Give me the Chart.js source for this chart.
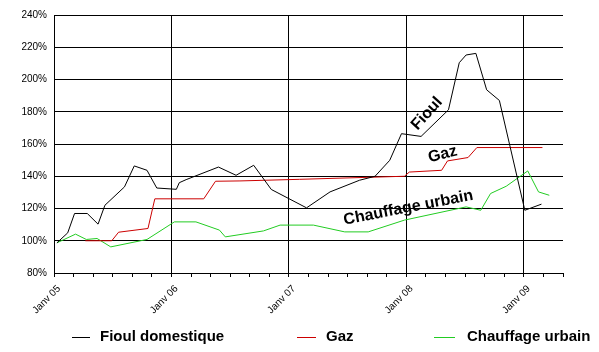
<!DOCTYPE html>
<html>
<head>
<meta charset="utf-8">
<script src="https://cdn.jsdelivr.net/npm/chart.js@4/dist/chart.umd.min.js"></script>
<style>
  html, body { margin: 0; padding: 0; background: #fff; }
  canvas { display: block; }
</style>
</head>
<body>
<canvas id="c" width="599" height="352"></canvas>
<script>
// ---- Data (x = months since January 2005, y = index, base 100) ----
const tickLabels = ['Janv 05', 'Janv 06', 'Janv 07', 'Janv 08', 'Janv 09'];
const seriesNames = ['Fioul domestique', 'Gaz', 'Chauffage urbain'];

const fioulMonths = [0.3, 1.4, 2.1, 3.4, 4.5, 5.2, 7.2, 8.2, 9.5, 10.5, 12.5, 12.8, 13.5, 16.8, 18.6, 20.4, 22.2, 25.8, 28.2, 31.2, 32.8, 34.3, 35.5, 37.5, 40.3, 41.4, 42.1, 43.1, 44.2, 45.5, 48.1, 49.8];
const fioulValues = [98.7, 104.9, 116.9, 116.9, 110.3, 122, 133.4, 146.4, 143.7, 132.7, 131.9, 136, 137.9, 145.7, 140.6, 146.8, 131.8, 120.4, 130.3, 137.5, 140, 149.9, 166.4, 164.7, 181.2, 210.4, 215.2, 216.2, 193.6, 187, 118.9, 122.7];

const gazMonths = [3.2, 5.9, 6.6, 9.6, 10.3, 15.3, 16.5, 19, 25.1, 35.8, 36.3, 39.6, 40.2, 42.3, 43.2, 49.9];
const gazValues = [100, 100, 105.3, 107.6, 126, 126, 136.9, 137.1, 138.1, 140, 142.6, 143.7, 149.5, 151.6, 157.8, 157.8];

const chauffageMonths = [0.3, 2.2, 3.3, 4.4, 5.8, 9.5, 12.3, 14.5, 16.9, 17.5, 21.4, 23.1, 26.5, 29.7, 32.1, 35.8, 42.1, 43.6, 44.6, 46.2, 48.4, 49.5, 50.6];
const chauffageValues = [98.7, 104.1, 100.8, 101.4, 96.2, 100.8, 111.7, 111.7, 106.6, 102.4, 106.1, 109.7, 109.7, 105.5, 105.5, 112.8, 121, 118.9, 129.3, 133.8, 143.3, 130.3, 128.2];

// In-chart labels, anchored at (month, value)
const annotationTexts = ['Fioul', 'Gaz', 'Chauffage urbain'];
const annotationMonths = [38.1, 39.7, 36.2];
const annotationValues = [178.8, 153.6, 120.4];

// ---- Styles ----
const FONT = 'Liberation Sans, Arial, Helvetica, sans-serif';
const colors = ['#000000', '#cc0000', '#22cc22'];
const annotationAngles = [-48, -14, -11];

function pts(xs, ys) { return xs.map((m, i) => ({ x: m, y: ys[i] })); }

const annotationPlugin = {
  id: 'inlineLabels',
  afterDatasetsDraw(chart) {
    const ctx = chart.ctx, xs = chart.scales.x, ys = chart.scales.y;
    ctx.save();
    ctx.fillStyle = '#000';
    ctx.font = 'bold 16px ' + FONT;
    ctx.textAlign = 'center';
    ctx.textBaseline = 'middle';
    annotationTexts.forEach((t, i) => {
      ctx.save();
      ctx.translate(xs.getPixelForValue(annotationMonths[i]), ys.getPixelForValue(annotationValues[i]));
      ctx.rotate(annotationAngles[i] * Math.PI / 180);
      ctx.fillText(t, 0, 0);
      ctx.restore();
    });
    ctx.restore();
  }
};

const legendPlugin = {
  id: 'bottomLegend',
  afterDraw(chart) {
    const ctx = chart.ctx;
    const y = 337;
    const lineX = [[72, 90], [297, 316], [434, 455]];
    const textX = [100, 326, 467];
    ctx.save();
    ctx.font = 'bold 15px ' + FONT;
    ctx.textBaseline = 'middle';
    ctx.textAlign = 'left';
    seriesNames.forEach((name, i) => {
      ctx.strokeStyle = colors[i];
      ctx.lineWidth = 1;
      ctx.beginPath();
      ctx.moveTo(lineX[i][0], y + 0.5);
      ctx.lineTo(lineX[i][1], y + 0.5);
      ctx.stroke();
      ctx.fillStyle = '#000';
      ctx.fillText(name, textX[i], y);
    });
    ctx.restore();
  }
};

new Chart(document.getElementById('c'), {
  type: 'line',
  data: {
    datasets: [
      { label: seriesNames[0], data: pts(fioulMonths, fioulValues), borderColor: colors[0], borderWidth: 1, pointRadius: 0, tension: 0, fill: false },
      { label: seriesNames[1], data: pts(gazMonths, gazValues), borderColor: colors[1], borderWidth: 1, pointRadius: 0, tension: 0, fill: false },
      { label: seriesNames[2], data: pts(chauffageMonths, chauffageValues), borderColor: colors[2], borderWidth: 1, pointRadius: 0, tension: 0, fill: false }
    ]
  },
  options: {
    responsive: false,
    animation: false,
    devicePixelRatio: 1,
    layout: { padding: { left: 0, right: 36, top: 15, bottom: 34 } },
    plugins: { legend: { display: false }, tooltip: { enabled: false } },
    scales: {
      x: {
        type: 'linear',
        min: 0,
        max: 52,
        afterFit: s => { s.height = 45; },
        ticks: {
          stepSize: 2,
          autoSkip: false,
          minRotation: 45,
          maxRotation: 45,
          padding: 6,
          labelOffset: 5,
          color: '#000',
          font: { family: FONT, size: 10 },
          callback: v => (v % 12 === 0 ? tickLabels[v / 12] : '')
        },
        grid: {
          color: c => (c.tick && c.tick.value % 12 === 0 ? '#000' : 'rgba(0,0,0,0)'),
          tickColor: '#000',
          tickLength: 4,
          lineWidth: 1,
          drawTicks: true
        },
        border: { color: '#000', width: 1 }
      },
      y: {
        min: 80,
        max: 240,
        afterFit: s => { s.width = 54; },
        ticks: {
          stepSize: 20,
          padding: 7,
          color: '#000',
          font: { family: FONT, size: 10 },
          callback: v => v + '%'
        },
        grid: { color: '#000', lineWidth: 1, drawTicks: false },
        border: { color: '#000', width: 1 }
      }
    }
  },
  plugins: [annotationPlugin, legendPlugin]
});
</script>
</body>
</html>
